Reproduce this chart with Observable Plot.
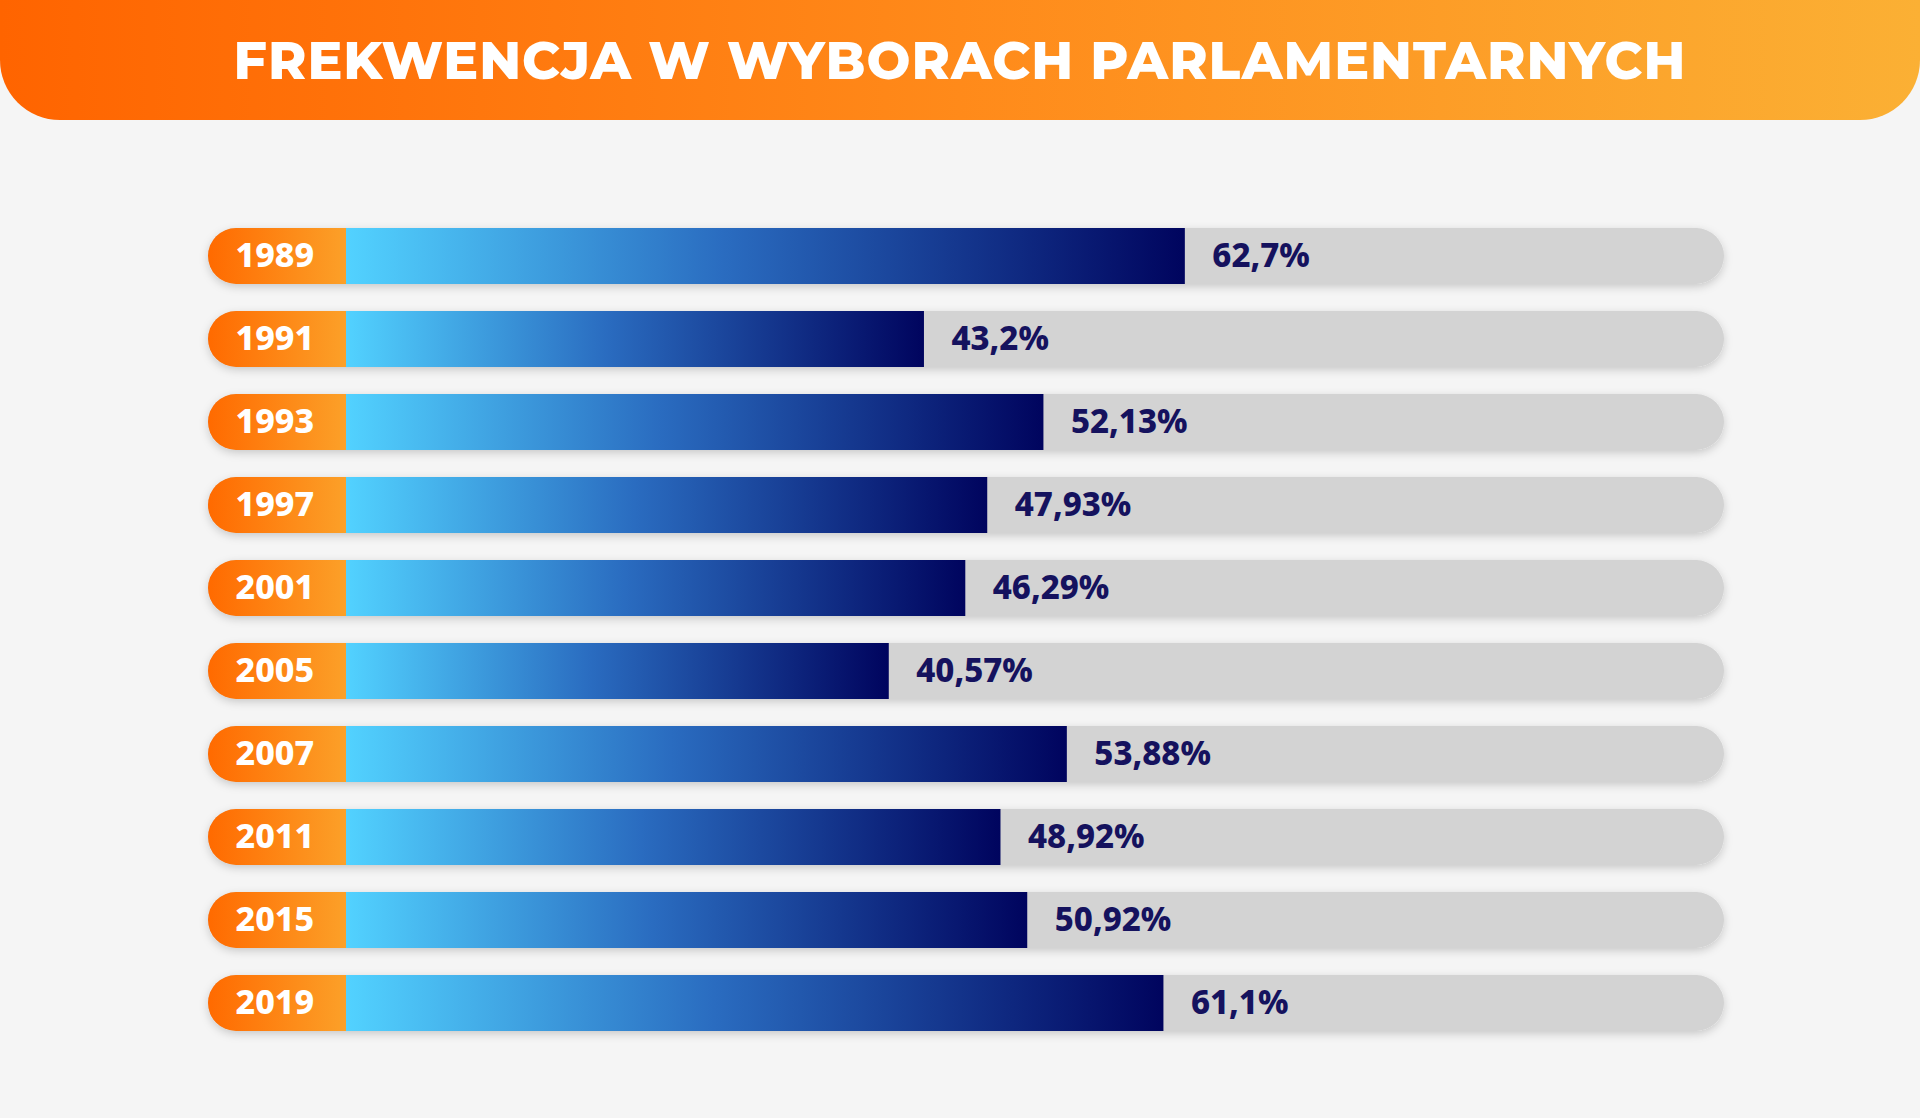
<!DOCTYPE html>
<html><head><meta charset="utf-8">
<script src="https://cdn.jsdelivr.net/npm/d3@7"></script>
<script src="https://cdn.jsdelivr.net/npm/@observablehq/plot@0.6"></script>
<style>
html,body{margin:0;padding:0;background:#f5f5f5;width:1920px;height:1118px;overflow:hidden;font-family:Montserrat,"Open Sans",Lato,sans-serif}
#hdr{height:120px;background:linear-gradient(90deg,#ff6400,#ff8a1a 50%,#fbb034);border-radius:0 0 60px 60px;color:#fff;font-weight:800;font-size:52px;text-align:center;line-height:122px;letter-spacing:1px}
</style></head><body>
<div id="hdr">FREKWENCJA W WYBORACH PARLAMENTARNYCH</div>
<div id="chart"></div>
<script>
const years = ["1989","1991","1993","1997","2001","2005","2007","2011","2015","2019"];
const turnout = [62.7,43.2,52.13,47.93,46.29,40.57,53.88,48.92,50.92,61.1];
const labels = ["62,7%","43,2%","52,13%","47,93%","46,29%","40,57%","53,88%","48,92%","50,92%","61,1%"];
const data = years.map((y,i)=>({year:y,value:turnout[i],label:labels[i]}));
const plot = Plot.plot({
  width:1920, height:998, margin:0,
  style:{background:"transparent",overflow:"visible"},
  x:{domain:[0,103],range:[346,1724],axis:null},
  y:{type:"band",domain:years,range:[91,929],paddingInner:0.32,paddingOuter:0.16,axis:null},
  marks:[
    Plot.rect(data,{y:"year",x1:()=>0,x2:()=>103,insetLeft:-138,fill:"#d3d3d3",rx:28}),
    Plot.rect(data,{y:"year",x1:()=>0,x2:()=>0,insetLeft:-138,insetRight:-40,fill:"url(#pillGrad)",rx:28}),
    Plot.rect(data,{y:"year",x1:()=>0,x2:"value",fill:"url(#barGrad)"}),
    Plot.text(data,{y:"year",x:()=>0,text:"year",dx:-111,textAnchor:"start",fill:"white",fontSize:34,fontWeight:800}),
    Plot.text(data,{y:"year",x:"value",text:"label",dx:27,textAnchor:"start",fill:"#15125e",fontSize:33,fontWeight:800})
  ]
});
const svg = d3.select(plot);
const defs = svg.insert("defs",":first-child");
const bg = defs.append("linearGradient").attr("id","barGrad").attr("x1","0").attr("x2","1").attr("y1","0").attr("y2","0");
bg.append("stop").attr("offset","0").attr("stop-color","#52d2ff");
bg.append("stop").attr("offset","0.45").attr("stop-color","#2a6cc0");
bg.append("stop").attr("offset","1").attr("stop-color","#00045e");
const pg = defs.append("linearGradient").attr("id","pillGrad").attr("x1","0").attr("x2","1").attr("y1","0").attr("y2","0");
pg.append("stop").attr("offset","0").attr("stop-color","#ff6a00");
pg.append("stop").attr("offset","1").attr("stop-color","#fbb034");
const f = defs.append("filter").attr("id","sh").attr("x","-5%").attr("y","-30%").attr("width","110%").attr("height","160%");
f.append("feDropShadow").attr("dx",0).attr("dy",3).attr("stdDeviation",4).attr("flood-color","#000").attr("flood-opacity",0.18);
svg.selectAll('g[aria-label="rect"]').filter((d,i)=>i===0).attr("filter","url(#sh)");
document.getElementById("chart").append(plot);
</script></body></html>
